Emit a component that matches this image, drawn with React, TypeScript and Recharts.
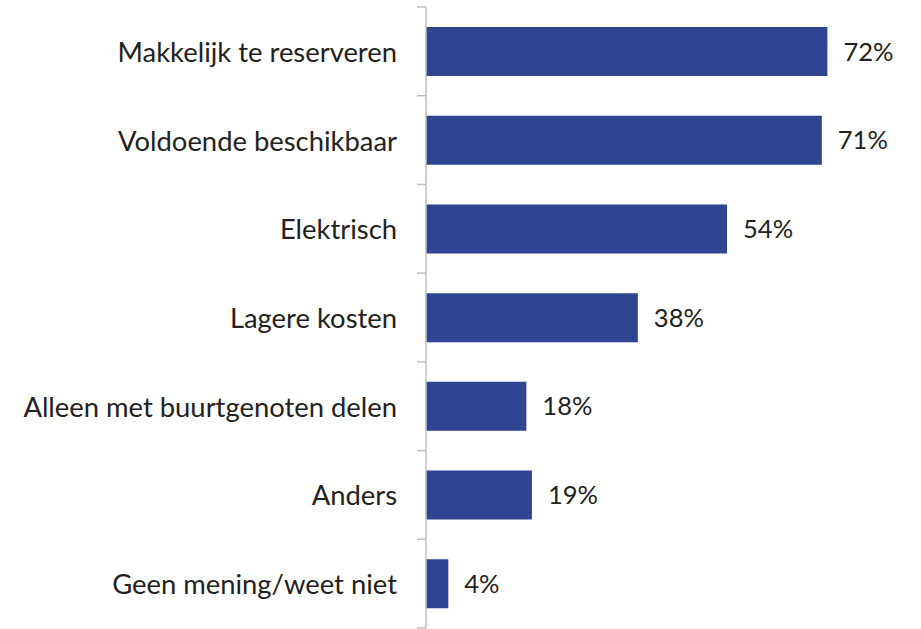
import { BarChart, Bar, XAxis, YAxis, LabelList } from "recharts";

const categories = [
  "Makkelijk te reserveren",
  "Voldoende beschikbaar",
  "Elektrisch",
  "Lagere kosten",
  "Alleen met buurtgenoten delen",
  "Anders",
  "Geen mening/weet niet",
];
const values = [72, 71, 54, 38, 18, 19, 4];

const data = categories.map((name, i) => ({ name, value: values[i] }));

const FONT = "Lato, sans-serif";
const BAND = 621 / categories.length;

// Excel-style: ticks sit on the category boundaries, not the centres
const CategoryTick = (props: any) => {
  const { y, payload, index } = props;
  return (
    <g>
      <line x1={417} x2={426} y1={y - BAND / 2} y2={y - BAND / 2} stroke="#BFBFBF" strokeWidth={1.5} />
      {index === categories.length - 1 && (
        <line x1={417} x2={426} y1={y + BAND / 2} y2={y + BAND / 2} stroke="#BFBFBF" strokeWidth={1.5} />
      )}
      <text x={397} y={y} textAnchor="end" dominantBaseline="central" fill="#222" fontSize={27.4} fontFamily={FONT}>
        {payload.value}
      </text>
    </g>
  );
};

export default function App() {
  return (
    <div style={{ position: "absolute", left: 0, top: 0, background: "#fff" }}>
      <BarChart
        width={921}
        height={629}
        data={data}
        layout="vertical"
        margin={{ top: 7, right: 49, bottom: 1, left: 0 }}
      >
        <XAxis type="number" domain={[0, 80]} hide />
        <YAxis
          type="category"
          dataKey="name"
          width={426}
          axisLine={{ stroke: "#BFBFBF", strokeWidth: 1.5 }}
          tickLine={false}
          tick={<CategoryTick />}
          interval={0}
        />
        <Bar dataKey="value" fill="#2F4592" barSize={49} isAnimationActive={false}>
          <LabelList
            dataKey="value"
            position="right"
            offset={16}
            formatter={(v: any) => `${v}%`}
            fill="#222"
            fontSize={25.5}
            fontFamily={FONT}
          />
        </Bar>
      </BarChart>
    </div>
  );
}
